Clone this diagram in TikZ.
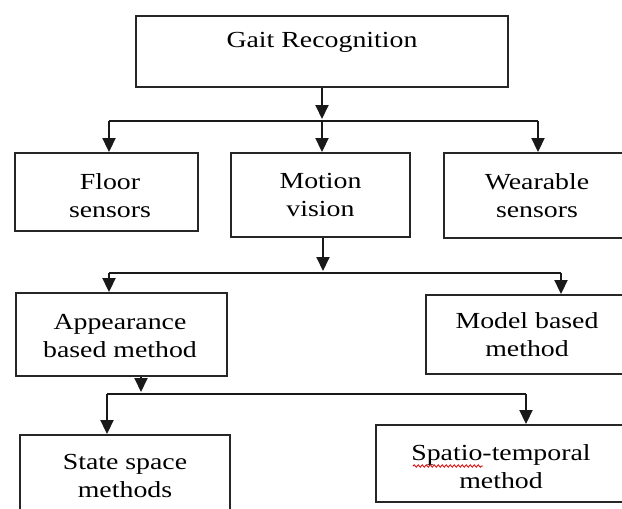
\documentclass[tikz,border=0pt]{standalone}
\usepackage{fontspec}
\setmainfont{Liberation Serif}[FakeStretch=1.21]
\usetikzlibrary{arrows.meta,decorations.pathmorphing}
\begin{document}
\begin{tikzpicture}[x=1pt,y=-1pt,
  box/.style={draw=black!85, line width=1.9pt, rectangle, inner sep=0pt,
    align=center, font=\fontsize{23}{28}\selectfont},
  txt/.style={inner sep=0pt, align=center, font=\fontsize{23}{28}\selectfont},
  conn/.style={line width=1.9pt, draw=black!90},
  arr/.style={conn, -{Triangle[width=13pt,length=14pt]}}]
\useasboundingbox (0,0) rectangle (622,509);
\fill[white] (0,0) rectangle (622,509);
\clip (0,0) rectangle (622,509);
% boxes
\node[box, minimum width=372, minimum height=71] (gait) at (322,51.5) {};
\node[txt] (gaitlabel) at (322,42) {Gait Recognition};
\node[box, minimum width=183, minimum height=78] (floor) at (106.5,192) {};
\node[txt] (floorlabel) at (110,196) {Floor\\sensors};
\node[box, minimum width=179, minimum height=84] (motion) at (320.5,195) {Motion\\vision};
\node[box, minimum width=186, minimum height=85] (wear) at (537,195.5) {Wearable\\sensors};
\node[box, minimum width=211, minimum height=83] (app) at (121.5,334.5) {};
\node[txt] (applabel) at (120,336) {Appearance\\based method};
\node[box, minimum width=202, minimum height=79] (model) at (527,334.5) {Model based\\method};
\node[box, minimum width=210, minimum height=82] (state) at (125,476) {State space\\methods};
\node[box, minimum width=250, minimum height=77] (spatio) at (501,463.5) {};
\node[txt] (spatiolabel) at (501,466.5) {Spatio-temporal\\method};
% junctions
\coordinate (j1) at (322,121);
\coordinate (j1l) at (109,121);
\coordinate (j1r) at (538,121);
\coordinate (j2) at (323,273);
\coordinate (j2l) at (109,273);
\coordinate (j2r) at (561,273);
\coordinate (j3) at (141,394);
\coordinate (j3l) at (107,394);
\coordinate (j3r) at (526,394);
% connectors
\draw[arr, shorten >=2pt] (gait.south -| j1) -- (j1);
\draw[conn] (j1l) -- (j1r);
\draw[arr] (j1l) -- (j1l |- floor.north);
\draw[arr] (j1) -- (j1 |- motion.north);
\draw[arr] (j1r) -- (j1r |- wear.north);
\draw[arr, shorten >=2pt] (motion.south -| j2) -- (j2);
\draw[conn] (j2l) -- (j2r);
\draw[arr] (j2l) -- (j2l |- app.north);
\draw[arr] (j2r) -- (j2r |- model.north);
\draw[arr, shorten >=2pt] (app.south -| j3) -- (j3);
\draw[conn] (j3l) -- (j3r);
\draw[arr] (j3l) -- (j3l |- state.north);
\draw[arr] (j3r) -- (j3r |- spatio.north);
% spell-check squiggle
\draw[red!85!black, line width=0.8pt, decorate,
  decoration={snake, amplitude=1.2pt, segment length=4pt}] (413,466) -- (483,466);
\end{tikzpicture}
\end{document}
